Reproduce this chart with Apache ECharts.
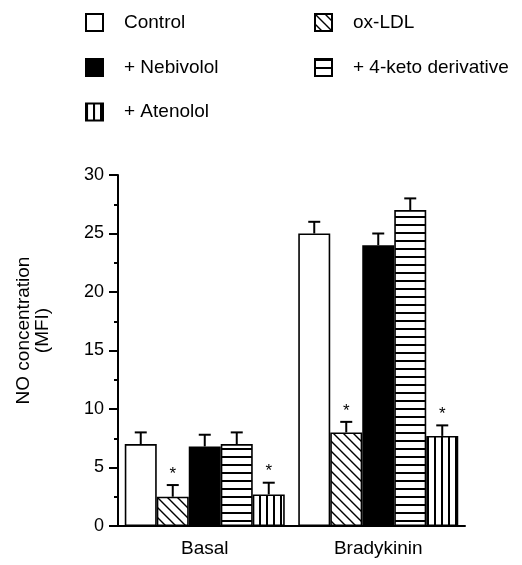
<!DOCTYPE html>
<html>
<head>
<meta charset="utf-8">
<script src="https://cdn.jsdelivr.net/npm/echarts@6/dist/echarts.min.js"></script>
<style>
html,body{margin:0;padding:0;background:#fff;}
#chart{width:522px;height:565px;}
</style>
</head>
<body>
<div id="chart"></div>
<script>
// ---- data ----
const categories = ['Basal', 'Bradykinin'];
const seriesNames = ['Control', 'ox-LDL', '+ Nebivolol', '+ 4-keto derivative', '+ Atenolol'];
const controlVals = [7.0, 25.0];
const controlErr = [1.0, 1.0];
const oxLDLVals = [2.5, 8.0];
const oxLDLErr = [1.0, 0.9];
const nebivololVals = [6.8, 24.0];
const nebivololErr = [1.0, 1.0];
const ketoVals = [7.0, 27.0];
const ketoErr = [1.0, 1.0];
const atenololVals = [2.7, 7.7];
const atenololErr = [1.0, 0.9];
const significant = [false, true, false, false, true];
const yTicks = [0, 5, 10, 15, 20, 25, 30];

const FONT = 'Liberation Sans, Arial, Helvetica, sans-serif';
const BW = 32;

function makePattern(w, h, draw) {
  const c = document.createElement('canvas');
  c.width = w; c.height = h;
  const ctx = c.getContext('2d');
  ctx.fillStyle = '#fff';
  ctx.fillRect(0, 0, w, h);
  ctx.fillStyle = '#000';
  ctx.strokeStyle = '#000';
  draw(ctx);
  return { image: c, repeat: 'repeat' };
}
const diagPat = makePattern(10, 10, ctx => {
  ctx.lineWidth = 1.4;
  ctx.beginPath();
  [-10, 0, 10].forEach(o => { ctx.moveTo(o - 2, -2); ctx.lineTo(o + 12, 12); });
  ctx.stroke();
});
const horizPat = makePattern(8, 8, ctx => { ctx.fillRect(0, 0, 8, 2); });
const vertPat = makePattern(7, 7, ctx => { ctx.fillRect(0, 0, 2, 7); });

const fills = ['#ffffff', diagPat, '#000000', horizPat, vertPat];
const vals = [controlVals, oxLDLVals, nebivololVals, ketoVals, atenololVals];
const errs = [controlErr, oxLDLErr, nebivololErr, ketoErr, atenololErr];

const barSeries = seriesNames.map((n, i) => ({
  name: n,
  type: 'bar',
  data: vals[i],
  barWidth: BW,
  barGap: '0%',
  itemStyle: { color: fills[i], borderColor: '#000', borderWidth: 1.6 },
  emphasis: { disabled: true },
  z: 2
}));

const errData = [];
seriesNames.forEach((n, i) => {
  categories.forEach((c, j) => {
    errData.push([j, vals[i][j], vals[i][j] + errs[i][j], i, significant[i] ? 1 : 0]);
  });
});

const errSeries = {
  type: 'custom',
  name: 'err',
  data: errData,
  encode: { x: 0, y: 2 },
  z: 5,
  silent: true,
  renderItem: function (params, api) {
    const cat = api.value(0);
    const idx = api.value(3);
    const base = api.coord([cat, api.value(1)]);
    const top = api.coord([cat, api.value(2)]);
    const x = base[0] + (idx - 2) * BW;
    const children = [
      { type: 'line', shape: { x1: x, y1: base[1], x2: x, y2: top[1] }, style: { stroke: '#000', lineWidth: 2 } },
      { type: 'line', shape: { x1: x - 6, y1: top[1], x2: x + 6, y2: top[1] }, style: { stroke: '#000', lineWidth: 2 } }
    ];
    if (api.value(4)) {
      children.push({ type: 'text', style: { text: '*', x: x, y: top[1] - 11, align: 'center', verticalAlign: 'middle', font: '17px ' + FONT, fill: '#000' } });
    }
    return { type: 'group', children: children };
  }
};

function legendFor(name, left, cy) {
  return {
    data: [{ name: name, icon: 'rect' }],
    orient: 'vertical',
    left: left,
    top: cy - 8.5,
    padding: 0,
    itemWidth: 17,
    itemHeight: 17,
    selectedMode: false,
    textStyle: { fontFamily: FONT, fontSize: 19, color: '#000', padding: [0, 0, 0, 16] },
    itemStyle: { borderColor: '#000', borderWidth: 2 }
  };
}

const chart = echarts.init(document.getElementById('chart'), null, { renderer: 'canvas' });
chart.setOption({
  animation: false,
  backgroundColor: '#fff',
  legend: [
    legendFor('Control', 85, 21.5),
    legendFor('+ Nebivolol', 85, 66.5),
    legendFor('+ Atenolol', 85, 111),
    legendFor('ox-LDL', 314, 21.5),
    legendFor('+ 4-keto derivative', 314, 66.5)
  ],
  grid: { left: 118, right: 57, top: 175, bottom: 39, containLabel: false },
  xAxis: {
    type: 'category',
    data: categories,
    axisLine: { lineStyle: { color: '#000', width: 2 } },
    axisTick: { alignWithLabel: true, length: 9, lineStyle: { color: '#000', width: 2 } },
    axisLabel: { color: '#000', fontFamily: FONT, fontSize: 19, margin: 13 },
    splitLine: { show: false }
  },
  yAxis: {
    type: 'value',
    min: yTicks[0],
    max: yTicks[yTicks.length - 1],
    interval: 5,
    name: 'NO concentration\n(MFI)',
    nameLocation: 'middle',
    nameRotate: 90,
    nameGap: 66,
    nameTextStyle: { color: '#000', fontFamily: FONT, fontSize: 19, lineHeight: 19, padding: [0, 0, 0, 40] },
    axisLine: { show: true, lineStyle: { color: '#000', width: 2 } },
    axisTick: { show: true, length: 9, lineStyle: { color: '#000', width: 2 } },
    minorTick: { show: true, splitNumber: 2, length: 4, lineStyle: { color: '#000', width: 2 } },
    axisLabel: { color: '#000', fontFamily: FONT, fontSize: 18, margin: 14 },
    splitLine: { show: false }
  },
  series: barSeries.concat([errSeries])
});
</script>
</body>
</html>
